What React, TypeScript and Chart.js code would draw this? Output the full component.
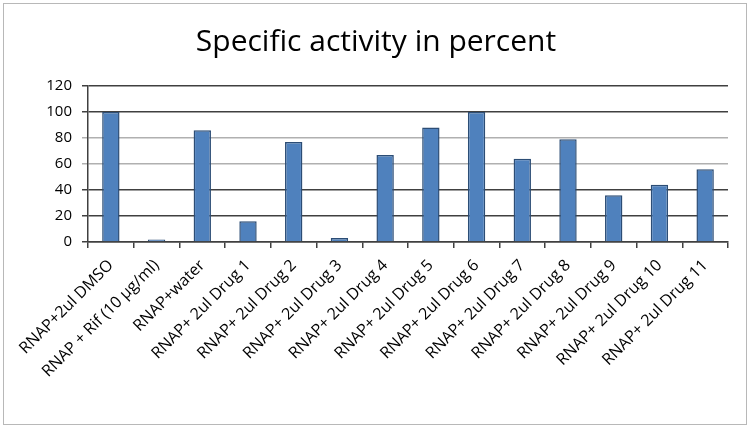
import React, { useEffect, useRef } from "react";
import { Chart, registerables } from "chart.js";

Chart.register(...registerables);

const categories = [
  "RNAP+2ul DMSO",
  "RNAP + Rif (10 µg/ml)",
  "RNAP+water",
  "RNAP+ 2ul Drug 1",
  "RNAP+ 2ul Drug 2",
  "RNAP+ 2ul Drug 3",
  "RNAP+ 2ul Drug 4",
  "RNAP+ 2ul Drug 5",
  "RNAP+ 2ul Drug 6",
  "RNAP+ 2ul Drug 7",
  "RNAP+ 2ul Drug 8",
  "RNAP+ 2ul Drug 9",
  "RNAP+ 2ul Drug 10",
  "RNAP+ 2ul Drug 11",
];

const activity = [100, 2, 86, 16, 77, 3, 67, 88, 100, 64, 79, 36, 44, 56];

const titleText = "Specific activity in percent";
const yMin = 0;
const yMax = 120;
const yStep = 20;

export default function App() {
  const canvasRef = useRef<HTMLCanvasElement | null>(null);

  useEffect(() => {
    document.body.style.margin = "0";
    const canvas = canvasRef.current;
    if (!canvas) return;
    const chart = new Chart(canvas, {
      type: "bar",
      data: {
        labels: categories,
        datasets: [
          {
            label: "Specific activity",
            data: activity,
            backgroundColor: "#4f81bd",
            borderColor: "#2c4d75",
            borderWidth: 1.5,
            barPercentage: 0.38,
            categoryPercentage: 1,
          },
        ],
      },
      options: {
        animation: false,
        responsive: false,
        maintainAspectRatio: false,
        layout: { padding: { left: 0, right: 0, top: 0, bottom: 0 } },
        plugins: {
          legend: { display: false },
          tooltip: { enabled: false },
          title: {
            display: true,
            text: titleText,
            color: "#000",
            font: { family: "Open Sans", size: 30, weight: "normal" },
            padding: { top: 24, bottom: 26 },
          },
        },
        scales: {
          x: {
            grid: {
              drawOnChartArea: false,
              drawTicks: true,
              tickLength: 6,
              color: "#404040",
              lineWidth: 1.5,
            },
            border: { color: "#404040", width: 1.5 },
            ticks: {
              minRotation: 45,
              maxRotation: 45,
              autoSkip: false,
              color: "#000",
              padding: 8,
              font: { family: "Open Sans", size: 16 },
            },
            afterFit: (axis: any) => {
              axis.height = 186;
            },
          },
          y: {
            min: yMin,
            max: yMax,
            ticks: {
              stepSize: yStep,
              color: "#000",
              padding: 10,
              font: { family: "Open Sans", size: 15 },
            },
            grid: {
              drawTicks: true,
              tickLength: 6,
              lineWidth: 1.5,
              color: (ctx: any) => {
                const v = ctx.tick ? ctx.tick.value : 0;
                return v === 60 || v === 80 ? "#b0b0b0" : "#404040";
              },
            },
            border: { color: "#404040", width: 1.5 },
            afterFit: (axis: any) => {
              axis.width = 88;
            },
          },
          spacer: {
            type: "linear",
            position: "right",
            display: true,
            grid: { display: false, drawTicks: false },
            border: { display: false },
            ticks: { display: false },
            afterFit: (axis: any) => {
              axis.width = 24;
            },
          },
        },
      },
    });
    return () => chart.destroy();
  }, []);

  return (
    <div
      style={{
        position: "absolute",
        left: 0,
        top: 0,
        width: 752,
        height: 428,
        background: "#fff",
      }}
    >
      <div
        style={{
          position: "absolute",
          left: 3,
          top: 3,
          width: 742,
          height: 420,
          border: "1.5px solid #b8b8b8",
        }}
      />
      <canvas
        ref={canvasRef}
        width={752}
        height={428}
        style={{ position: "absolute", left: 0, top: 0, width: 752, height: 428 }}
      />
    </div>
  );
}
